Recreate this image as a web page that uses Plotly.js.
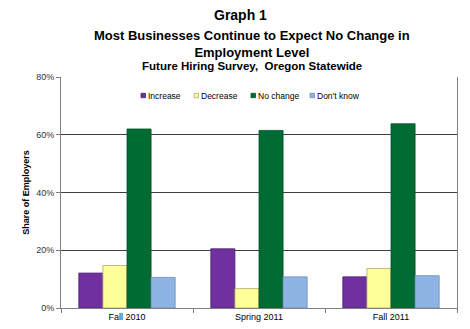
<!DOCTYPE html>
<html>
<head>
<meta charset="utf-8">
<script src="https://cdn.plot.ly/plotly-3.0.1.min.js"></script>
<style>html,body{margin:0;padding:0;background:#fff;}#chart{width:470px;height:329px;}</style>
</head>
<body>
<div id="chart"></div>
<script>
const categories = ["Fall 2010", "Spring 2011", "Fall 2011"];
const increase = [12.1, 20.5, 10.8];
const decrease = [14.7, 6.7, 13.7];
const noChange = [62.0, 61.5, 63.8];
const dontKnow = [10.6, 10.8, 11.2];
const seriesNames = ["Increase", "Decrease", "No change", "Don't know"];
const yTickVals = [0, 20, 40, 60, 80];
const yTickText = ["0%", "20%", "40%", "60%", "80%"];

const colors = ["#7030A0", "#FFFF99", "#006B33", "#8DB4E2"];
const lineColors = ["#4A2070", "#A8A870", "#04532A", "#6E8FB8"];
const values = [increase, decrease, noChange, dontKnow];

const data = values.map((v, i) => ({
  type: "bar",
  x: categories,
  y: v,
  name: seriesNames[i],
  marker: {color: colors[i], line: {color: lineColors[i], width: 0.8}}
}));

const font = "Liberation Sans, Arial, sans-serif";
const W = 470, H = 329, L = 61, R = 13, T = 77, B = 21;
const plotW = W - L - R, plotH = H - T - B;
function px(x) { return (x - L) / plotW; }
function py(y) { return (H - B - y) / plotH; }

const layout = {
  width: W, height: H,
  margin: {l: L, r: R, t: T, b: B},
  paper_bgcolor: "#fff", plot_bgcolor: "#fff",
  barmode: "group", bargap: 0.27, bargroupgap: 0,
  font: {family: font, size: 9, color: "#000"},
  showlegend: false,
  xaxis: {showline: true, linecolor: "#808080", linewidth: 1, mirror: false,
          ticks: "outside", tickson: "boundaries", ticklen: 4, tickcolor: "#808080",
          tickfont: {size: 9, color: "#000"}, fixedrange: true},
  yaxis: {range: [0, 80], tickvals: yTickVals, ticktext: yTickText,
          showgrid: true, gridcolor: "#404040", gridwidth: 1,
          showline: true, linecolor: "#808080", linewidth: 1, mirror: true,
          ticks: "outside", ticklen: 4, tickcolor: "#808080",
          tickfont: {size: 9, color: "#333"}, zeroline: false,
          title: {text: "<b>Share of Employers</b>", font: {size: 9, color: "#000"}, standoff: 5}},
  annotations: [
    {text: "<b>Graph 1</b>", x: px(240), y: py(15), font: {size: 14, color: "#000"}},
    {text: "<b>Most Businesses Continue to Expect No Change in<br>Employment Level</b>",
     x: px(252), y: py(44), font: {size: 13, color: "#000"}},
    {text: "<b>Future Hiring Survey,  Oregon Statewide</b>", x: px(252), y: py(66),
     font: {size: 11.5, color: "#000"}}
  ],
  shapes: []
};
layout.annotations.forEach(a => {
  a.xref = "paper"; a.yref = "paper"; a.showarrow = false;
  a.xanchor = "center"; a.yanchor = "middle";
});

// custom compact legend
const legendX = [141, 194, 251, 310];
const legendY = 95.5;
seriesNames.forEach((name, i) => {
  layout.shapes.push({type: "rect", xref: "paper", yref: "paper",
    x0: px(legendX[i]), x1: px(legendX[i] + 4.5), y0: py(legendY + 2.2), y1: py(legendY - 2.2),
    fillcolor: colors[i], line: {color: lineColors[i], width: 0.8}});
  layout.annotations.push({text: name, xref: "paper", yref: "paper", showarrow: false,
    x: px(legendX[i] + 5), y: py(legendY), xanchor: "left", yanchor: "middle",
    font: {size: 8.5, color: "#000"}});
});

Plotly.newPlot("chart", data, layout, {displayModeBar: false, staticPlot: true});
</script>
</body>
</html>
